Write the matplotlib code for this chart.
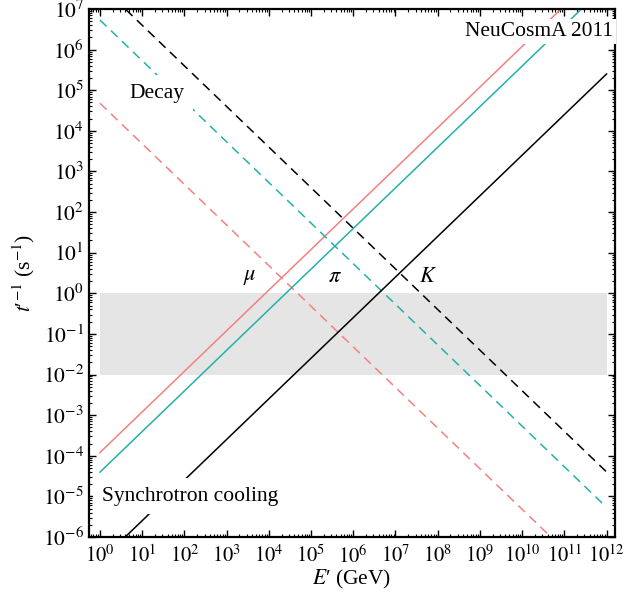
import numpy as np
import matplotlib
matplotlib.use('Agg')
import matplotlib.pyplot as plt
from matplotlib.ticker import LogLocator, NullFormatter

plt.rcParams['font.family'] = ['Liberation Serif', 'DejaVu Serif']
plt.rcParams['mathtext.fontset'] = 'stix'
plt.rcParams['font.size'] = 15

# energy range of all curves (GeV)
E_range = [1e0, 1e12]

# rates at E' = 1 GeV (s^-1): synchrotron cooling ~ E', decay ~ 1/E'
particles = ['mu', 'pi', 'K']
sync_at_1GeV = [1.2e-4, 3.95e-5, 2.52e-7]
decay_at_1GeV = [4.8e4, 5.36e6, 3.99e7]
colors = ['#f58080', '#20b2aa', 'black']

# gray band (s^-1)
band_lo, band_hi = 1e-2, 1e0

# decades shown on the axes
x_decades = np.arange(0, 13)
y_decades = np.arange(-6, 8)

# particle labels
lab_text = [r'$\mu$', r'$\pi$', r'$K$']
lab_x = [3.5e3, 3.6e5, 5.8e7]
lab_y = [2.5, 2.5, 2.5]

fig = plt.figure(figsize=(6.24, 6.03), dpi=100)
ax = fig.add_axes([0.1426, 0.1095, 0.843, 0.8755])

E = np.array(E_range)
ax.fill_between(E, band_lo, band_hi, color='#e5e5e5', lw=0, zorder=1)

for s, d, c in zip(sync_at_1GeV, decay_at_1GeV, colors):
    ax.plot(E, s * E, color=c, lw=1.1, zorder=2)
    ax.plot(E, d / E, color=c, lw=1.1, ls=(0, (6, 4)), zorder=2)

ax.set_xscale('log')
ax.set_yscale('log')
ax.set_xlim(10**-0.26, 10**12.2)
ax.set_ylim(1e-6, 1e7)

ax.set_xticks(10.0**x_decades, [r'$10^{%d}$' % k for k in x_decades])
ax.set_yticks(10.0**y_decades, [r'$10^{%d}$' % k for k in y_decades])
ax.xaxis.set_minor_locator(LogLocator(base=10, subs=np.arange(2, 10), numticks=20))
ax.yaxis.set_minor_locator(LogLocator(base=10, subs=np.arange(2, 10), numticks=20))
ax.xaxis.set_minor_formatter(NullFormatter())
ax.yaxis.set_minor_formatter(NullFormatter())

ax.tick_params(which='both', direction='in', top=True, right=True)
ax.tick_params(axis='y', labelsize=15.5)
ax.tick_params(axis='x', labelsize=14.8)
ax.tick_params(which='major', length=5, width=1)
ax.tick_params(axis='x', which='major', pad=6)
ax.tick_params(which='minor', length=2.5, width=0.8)
for sp in ax.spines.values():
    sp.set_linewidth(1.6)

ax.set_xlabel("$E$\u2032 (GeV)", fontsize=15.5, labelpad=0)
ax.set_ylabel("$t$\u2032$^{-1}$ (s$^{-1}$)", fontsize=15.5, labelpad=4)

for t, x, y in zip(lab_text, lab_x, lab_y):
    ax.text(x, y, t, ha='center', va='center', fontsize=16, zorder=5)

box = dict(facecolor='white', edgecolor='none', pad=6)
ax.text(22, 8.5e4, 'Decay', ha='center', va='center', fontsize=15.5, bbox=box, zorder=5)
ax.text(1.1, 1e-5, 'Synchrotron cooling', ha='left', va='center', fontsize=15.5,
        bbox=box, zorder=5)
ax.text(0.996, 0.975, 'NeuCosmA 2011', ha='right', va='top', fontsize=15.5,
        transform=ax.transAxes, bbox=dict(facecolor='white', edgecolor='none', pad=2), zorder=5)

fig.savefig('out.png', dpi=100)
